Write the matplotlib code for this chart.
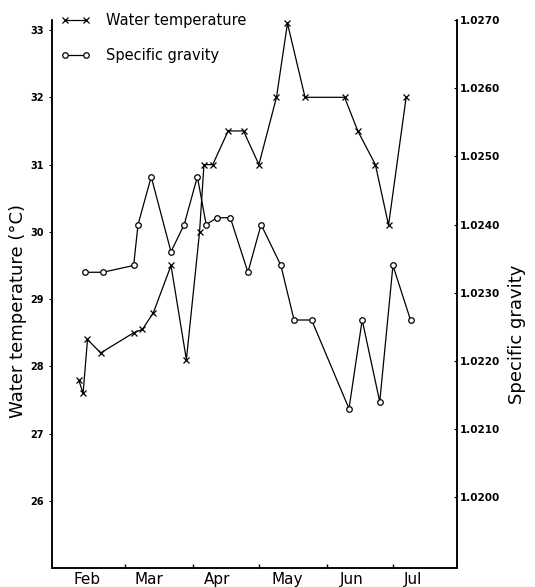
import matplotlib
matplotlib.use('Agg')
from matplotlib import pyplot as plt

# sampling dates as day of year (1 = 1 Jan)
temp_day = [39, 41, 43, 49, 64, 68, 73, 81, 88, 94, 96, 100, 107, 114, 121,
            129, 134, 142, 160, 166, 174, 180, 188]
temp_val = [27.8, 27.6, 28.4, 28.2, 28.5, 28.55, 28.8, 29.5, 28.1, 30.0, 31.0,
            31.0, 31.5, 31.5, 31.0, 32.0, 33.1, 32.0, 32.0, 31.5, 31.0, 30.1, 32.0]

sg_day = [42, 50, 64, 66, 72, 81, 87, 93, 97, 102, 108, 116, 122, 131, 137,
          145, 162, 168, 176, 182, 190]
sg_val = [1.0233, 1.0233, 1.0234, 1.0240, 1.0247, 1.0236, 1.0240, 1.0247,
          1.0240, 1.0241, 1.0241, 1.0233, 1.0240, 1.0234, 1.0226, 1.0226,
          1.0213, 1.0226, 1.0214, 1.0234, 1.0226]

month_start = [60, 91, 121, 152, 182]
month_pos = [43, 71, 102, 134, 163, 191]
month_names = ['Feb', 'Mar', 'Apr', 'May', 'Jun', 'Jul']

temp_ticks = [26, 27, 28, 29, 30, 31, 32, 33]
sg_ticks = [1.0200, 1.0210, 1.0220, 1.0230, 1.0240, 1.0250, 1.0260, 1.0270]

plt.rcParams['font.family'] = 'DejaVu Sans'

fig = plt.figure(figsize=(5.35, 5.87), dpi=100)
ax = fig.add_axes([0.097, 0.032, 0.757, 0.934])
ax2 = ax.twinx()

l1, = ax.plot(temp_day, temp_val, color='black', lw=0.9, marker='x', ms=4, mew=0.9)
l2, = ax2.plot(sg_day, sg_val, color='black', lw=0.9, marker='o', ms=4,
               mfc='white', mew=0.9)

ax.set_xlim(26.8, 211.1)
ax.set_ylim(25.0, 33.15)
ax2.set_ylim(1.01896, 1.0270)

for a in (ax, ax2):
    a.spines['top'].set_visible(False)
    for s in a.spines.values():
        s.set_linewidth(1.1)

ax.set_xticks(month_pos)
ax.set_xticklabels(month_names, fontsize=11)
ax.set_xticks(month_start, minor=True)
ax.tick_params(axis='x', which='major', length=0, pad=3)
ax.tick_params(axis='x', which='minor', length=3, direction='in', width=1)

ax.set_yticks(temp_ticks)
ax.set_yticklabels([str(t) for t in temp_ticks], fontsize=7, fontweight='bold')
ax.tick_params(axis='y', length=2, width=0.8, pad=4)

ax2.set_yticks(sg_ticks)
ax2.set_yticklabels(['%.4f' % t for t in sg_ticks], fontsize=7.5, fontweight='bold')
ax2.tick_params(axis='y', length=2, width=0.8, direction='in', pad=2)

fig.text(18/535, 1 - 311/587, 'Water temperature (°C)', rotation=90,
         ha='center', va='center', fontsize=13)
fig.text(517/535, 1 - 334/587, 'Specific gravity', rotation=90,
         ha='center', va='center', fontsize=13)

fig.legend([l1, l2], ['Water temperature', 'Specific gravity'], loc='upper left',
           bbox_to_anchor=(61/535, 1 - 13/587), frameon=False, fontsize=10.5,
           handlelength=2.0, handletextpad=1.1, labelspacing=1.4, borderpad=0,
           borderaxespad=0, numpoints=2)

fig.savefig('out.png', dpi=100)
